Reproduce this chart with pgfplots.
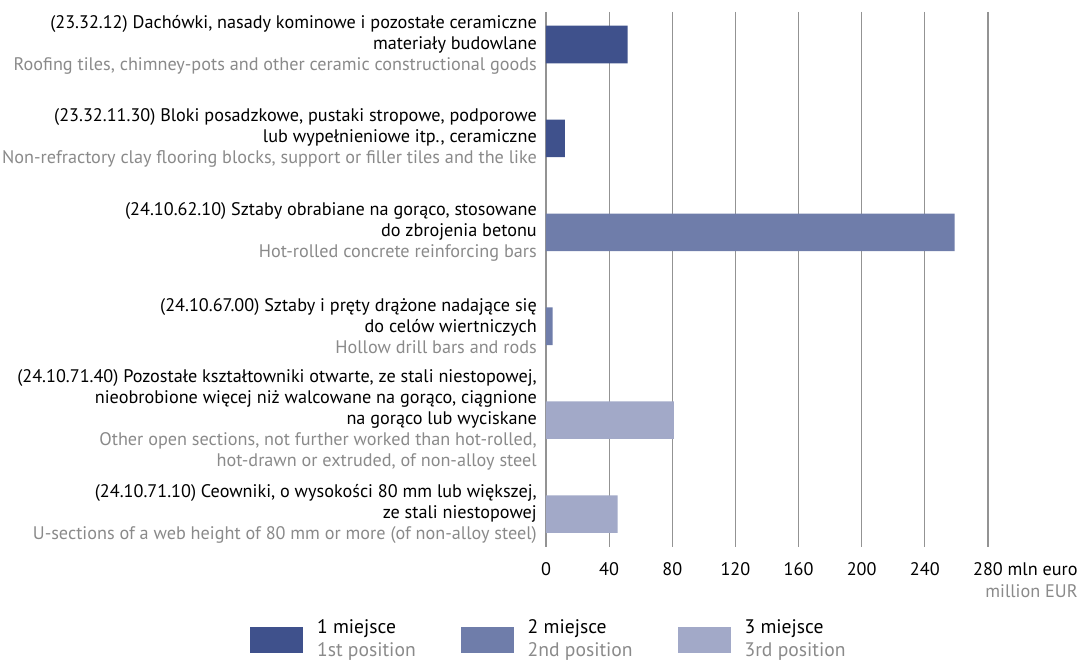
\documentclass[border=0pt]{standalone}
\usepackage{fontspec}
\setmainfont{PT Sans}
\usepackage{pgfplots}
\pgfplotsset{compat=1.18}

\definecolor{firstc}{HTML}{3F518C}
\definecolor{secondc}{HTML}{6F7DAA}
\definecolor{thirdc}{HTML}{A2A9C8}
\definecolor{engray}{HTML}{8A8A8A}
\definecolor{gridc}{HTML}{939393}

\newcommand{\en}[1]{{\color{engray}#1}}
\newcommand{\lbl}{\fontsize{18.2}{21}\selectfont}
\newcommand{\lgd}{\fontsize{19.6}{23}\selectfont}

\begin{document}
\begin{tikzpicture}
\path[use as bounding box] (-546pt,-113pt) rectangle (544pt,547pt);
\begin{axis}[
  at={(0pt,0pt)}, anchor=south west,
  scale only axis, width=442pt, height=535pt,
  xbar, bar width=0.40, bar shift=0pt,
  xmin=0, xmax=280,
  ymin=-0.346, ymax=5.351, y dir=reverse,
  axis line style={draw=none},
  major tick length=0pt,
  xmajorgrids, grid style={gridc, line width=1.2pt},
  xtick={0,40,...,280},
  xticklabels={0,40,80,120,160,200,240,{280\rlap{ mln euro\llap{\raisebox{-22pt}{\en{million EUR}}}}}},
  ytick={0,...,5},
  yticklabels={
    {(23.32.12) Dachówki, nasady kominowe i pozostałe ceramiczne\\materiały budowlane\\\en{Roofing tiles, chimney-pots and other ceramic constructional goods}},
    {(23.32.11.30) Bloki posadzkowe, pustaki stropowe, podporowe\\lub wypełnieniowe itp., ceramiczne\\\en{Non-refractory clay flooring blocks, support or filler tiles and the like}},
    {(24.10.62.10) Sztaby obrabiane na gorąco, stosowane\\do zbrojenia betonu\\\en{Hot-rolled concrete reinforcing bars}},
    {(24.10.67.00) Sztaby i pręty drążone nadające się\\do celów wiertniczych\\\en{Hollow drill bars and rods}},
    {(24.10.71.40) Pozostałe kształtowniki otwarte, ze stali niestopowej,\\nieobrobione więcej niż walcowane na gorąco, ciągnione\\na gorąco lub wyciskane\\\en{Other open sections, not further worked than hot-rolled,}\\\en{hot-drawn or extruded, of non-alloy steel}},
    {(24.10.71.10) Ceowniki, o wysokości 80 mm lub większej,\\ze stali niestopowej\\\en{U-sections of a web height of 80 mm or more (of non-alloy steel)}}
  },
  tick label style={font=\lbl},
  yticklabel style={align=right, inner sep=0pt, xshift=-9pt},
  xticklabel style={inner sep=0pt, yshift=-15pt},
  legend columns=3,
  legend style={draw=none, fill=none, inner sep=0pt,
    at={(-0.6697,-0.1346)}, anchor=north west,
    font=\lgd, cells={align=left},
    nodes={inner sep=0pt},
    column sep=14pt,
    /tikz/every even column/.append style={column sep=45pt}},
  legend image code/.code={\fill[#1] (0pt,-15pt) rectangle (53pt,11pt);},
]
\addplot[fill=firstc, draw=none] coordinates {(51.7,0) (12.0,1)};
\addlegendentry{1 miejsce\\\en{1st position}}
\addplot[fill=secondc, draw=none] coordinates {(258.9,2) (4.2,3)};
\addlegendentry{2 miejsce\\\en{2nd position}}
\addplot[fill=thirdc, draw=none] coordinates {(81.0,4) (45.4,5)};
\addlegendentry{3 miejsce\\\en{3rd position}}
\end{axis}
\end{tikzpicture}
\end{document}
